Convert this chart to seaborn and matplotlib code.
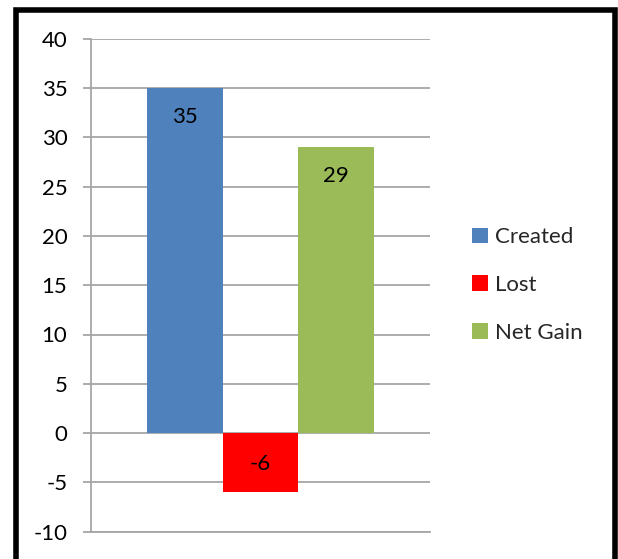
import matplotlib
matplotlib.use("Agg")
import matplotlib.pyplot as plt
from matplotlib.patches import Rectangle, Patch
import seaborn as sns
import pandas as pd

# datos del grafico
series = ["Created", "Lost", "Net Gain"]
values = [35, -6, 29]
colors = ["#4F81BD", "#FF0000", "#9BBB59"]
y_ticks = list(range(-10, 45, 5))

df = pd.DataFrame({"grupo": ["A"] * len(series), "serie": series, "valor": values})

sns.set_theme(style="white")
plt.rcParams["font.family"] = ["Lato", "DejaVu Sans"]
fs = 16

W, H = 618, 559
fig = plt.figure(figsize=(W / 100, H / 100), dpi=100)
fig.patch.set_facecolor("white")
ax = fig.add_axes([91 / W, 1 - 531.7 / H, (430 - 91) / W, (531.7 - 38.7) / H])

sns.barplot(data=df, x="grupo", y="valor", hue="serie", hue_order=series,
            palette=colors, width=0.67, gap=0, saturation=1, ax=ax,
            edgecolor="none", linewidth=0, legend=False)

ax.set_ylim(-10, 40)
ax.set_xlim(-0.5, 0.5)
ax.set_yticks(y_ticks)
ax.set_yticklabels([str(t) for t in y_ticks], fontsize=fs, color="black")
ax.set_xticks([])
ax.set_xlabel("")
ax.set_ylabel("")
ax.yaxis.grid(True, color="#A6A6A6", linewidth=1.3)
ax.set_axisbelow(True)
ax.tick_params(axis="y", length=6, width=1.3, color="#A6A6A6", pad=11, left=True)
for s in ["top", "right"]:
    ax.spines[s].set_visible(False)
for s in ["left", "bottom"]:
    ax.spines[s].set_color("#A6A6A6")
    ax.spines[s].set_linewidth(1.3)

# etiquetas dentro del extremo de cada barra
for bar, v in zip(ax.patches, values):
    xc = bar.get_x() + bar.get_width() / 2
    off = -21 if v >= 0 else 20
    ax.annotate(str(v), xy=(xc, v), xytext=(0, off), textcoords="offset points",
                ha="center", va="center", fontsize=fs, color="black")

handles = [Patch(facecolor=c, edgecolor="none") for c in colors]
ax.legend(handles, series, loc="center left", bbox_to_anchor=(472 / W, 1 - 285 / H),
          bbox_transform=fig.transFigure, frameon=False, fontsize=fs,
          borderaxespad=0, borderpad=0, handlelength=0.72, handleheight=0.72,
          handletextpad=0.3, labelspacing=1.25)

# marco negro alrededor de la figura
fig.patches.append(Rectangle((15.5 / W, 1 - 561 / H), (614.5 - 15.5) / W, (561 - 9.5) / H,
                             transform=fig.transFigure, fill=False,
                             edgecolor="black", linewidth=4))

fig.savefig("out.png", dpi=100)
